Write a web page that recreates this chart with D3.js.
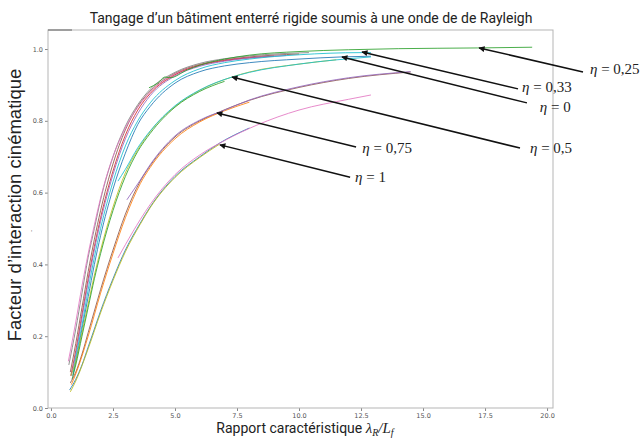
<!DOCTYPE html>
<html>
<head>
<meta charset="utf-8">
<script src="https://cdnjs.cloudflare.com/ajax/libs/d3/7.8.5/d3.min.js"></script>
<style>
    body { margin: 0; background: #fff; }
    text { font-family: Roboto, "Liberation Sans", sans-serif; }
</style>
</head>
<body>
<div id="chart"></div>
<script>
const xTicks = [0, 2.5, 5, 7.5, 10, 12.5, 15, 17.5, 20];
const yTicks = [0, 0.2, 0.4, 0.6, 0.8, 1.0];

// upper bundle (eta = 0 / 0,25 / 0,33)
const top1 = [[0.72,0.12],[1,0.22],[1.25,0.32],[1.5,0.42],[1.75,0.5],[2,0.58],[2.5,0.7],[3,0.785],[3.5,0.845],[4,0.888],[5,0.935],[6,0.96],[7,0.973],[8,0.981],[10.4,0.99]];
const top2 = [[0.78,0.1],[1,0.18],[1.25,0.28],[1.5,0.38],[1.75,0.47],[2,0.55],[2.5,0.68],[3,0.775],[3.5,0.84],[4,0.883],[5,0.932],[6,0.957],[7,0.97],[8,0.978],[10,0.986]];
const top3 = [[0.7,0.13],[1,0.24],[1.25,0.34],[1.5,0.43],[1.75,0.51],[2,0.585],[2.5,0.7],[3,0.78],[3.5,0.838],[4,0.88],[5,0.93],[6,0.955],[7,0.968],[8.5,0.978]];
const top4 = [[0.8,0.09],[1,0.16],[1.25,0.26],[1.5,0.36],[1.75,0.45],[2,0.53],[2.5,0.66],[3,0.76],[3.5,0.83],[4,0.876],[5,0.928],[6,0.955],[7,0.968],[9,0.98]];
const top5 = [[0.82,0.09],[1,0.15],[1.25,0.25],[1.5,0.35],[1.75,0.44],[2,0.52],[2.5,0.65],[3,0.75],[3.5,0.82],[4,0.87],[5,0.925],[6,0.952],[7,0.966],[8,0.975],[9.5,0.982]];
const eta0 = [[0.88,0.09],[1,0.13],[1.25,0.22],[1.5,0.31],[1.75,0.4],[2,0.48],[2.5,0.61],[3,0.71],[3.5,0.79],[4,0.84],[5,0.905],[6,0.937],[7,0.953],[8,0.962],[10,0.972],[11.7,0.978],[12.9,0.98]];
const eta033 = [[0.9,0.1],[1,0.14],[1.25,0.23],[1.5,0.33],[1.75,0.42],[2,0.5],[2.5,0.63],[3,0.73],[3.5,0.8],[4,0.85],[5,0.912],[6,0.945],[7,0.962],[8,0.972],[10,0.984],[12.5,0.99],[12.9,0.99]];
const eta025 = [[3.95,0.892],[4.3,0.905],[4.6,0.922],[4.8,0.92],[5.5,0.942],[6,0.955],[7,0.972],[8,0.983],[10,0.993],[12,0.998],[14,1.001],[17.2,1.003],[19.4,1.005]];

// eta = 0,5
const eta05a = [[0.8,0.09],[1,0.13],[1.25,0.21],[1.5,0.29],[1.75,0.37],[2,0.44],[2.5,0.56],[3,0.655],[3.5,0.72],[4,0.77],[5,0.84],[6,0.885],[7.3,0.922],[8,0.936],[10,0.958],[11.5,0.97]];
const eta05b = [[0.85,0.08],[1,0.12],[1.25,0.2],[1.5,0.28],[1.75,0.36],[2,0.43],[2.5,0.55],[3,0.645],[3.5,0.715],[4,0.765],[5,0.838],[6,0.882],[7,0.91]];
const eta05c = [[2.7,0.632],[3,0.665],[3.5,0.725],[4,0.772],[5,0.842],[6,0.886],[7.3,0.922],[8,0.935],[10,0.958],[12.9,0.978]];

// eta = 0,75
const eta075a = [[0.78,0.07],[1,0.1],[1.25,0.15],[1.5,0.21],[1.75,0.27],[2,0.33],[2.5,0.44],[3,0.54],[3.6,0.632],[4,0.675],[5,0.755],[6,0.8],[6.7,0.822],[8,0.857],[10,0.893],[12,0.918],[14.5,0.936]];
const eta075b = [[0.82,0.065],[1,0.095],[1.5,0.2],[2,0.32],[2.5,0.43],[3,0.53],[3.6,0.625],[4,0.67],[5,0.75],[6,0.797],[7,0.828],[8,0.852]];
const eta075c = [[3.06,0.58],[3.6,0.635],[4,0.678],[5,0.758],[6,0.802],[7,0.83],[8,0.858],[10,0.895],[12,0.92],[14.5,0.937]];

// eta = 1
const eta1a = [[0.75,0.05],[1,0.08],[1.25,0.12],[1.5,0.17],[1.75,0.22],[2,0.27],[2.5,0.36],[3,0.44],[3.6,0.515],[4,0.56],[5,0.645],[6,0.7],[6.8,0.738],[8,0.78]];
const eta1b = [[0.78,0.045],[1,0.075],[1.5,0.165],[2,0.265],[2.5,0.355],[3,0.435],[3.6,0.512],[4,0.558],[5,0.642],[6,0.698],[6.8,0.735]];
const eta1c = [[2.7,0.418],[3,0.455],[3.6,0.525],[4,0.567],[5,0.65],[6,0.705],[7,0.745],[8.3,0.788],[10,0.83],[12,0.86],[12.9,0.872]];

const seriesList = [top1, top2, top3, top4, top5, eta0, eta033, eta025,
    eta05a, eta05b, eta05c, eta075a, eta075b, eta075c, eta1a, eta1b, eta1c];
const seriesColor = ["#7f7f7f", "#8c564b", "#e377c2", "#d62728", "#9467bd", "#1f77b4", "#17becf", "#2ca02c",
    "#bcbd22", "#2ca02c", "#17becf", "#8c564b", "#ff7f0e", "#9467bd", "#1f77b4", "#bcbd22", "#e377c2"];

// annotations: tip of arrow, tail of arrow, label position (data coords)
const etaLabels = ["0,25", "0,33", "0", "0,5", "0,75", "1"];
const tipX = [17.26, 12.54, 11.73, 7.3, 6.69, 6.81];
const tipY = [1.003, 0.992, 0.978, 0.922, 0.822, 0.733];
const tailX = [21.45, 18.83, 19.19, 18.91, 12.3, 12.06];
const tailY = [0.936, 0.889, 0.85, 0.724, 0.727, 0.643];
const labelX = [21.73, 18.99, 19.71, 19.31, 12.55, 12.26];
const labelY = [0.942, 0.894, 0.836, 0.724, 0.724, 0.643];

const width = 644, height = 439;
const margin = { top: 30, right: 91, bottom: 31, left: 48 };

let svg = d3.select("#chart").append("svg")
    .attr("width", width)
    .attr("height", height);

svg.append("rect")
    .attr("width", width)
    .attr("height", height)
    .attr("fill", "#fff");

let x = d3.scaleLinear()
    .domain([-0.12, 20.24])
    .range([margin.left, width - margin.right]);

let y = d3.scaleLinear()
    .domain([0, 1.053])
    .range([height - margin.bottom, margin.top]);

// title
svg.append("text")
    .attr("x", 311)
    .attr("y", 23)
    .attr("text-anchor", "middle")
    .style("font-size", "14px")
    .style("fill", "#222")
    .text("Tangage d’un bâtiment enterré rigide soumis à une onde de de Rayleigh");

// axes
let xAxis = svg.append("g")
    .attr("transform", `translate(0, ${height - margin.bottom})`)
    .call(d3.axisBottom(x).tickValues(xTicks).tickFormat(d3.format(".1f")).tickSize(3).tickPadding(2));

let yAxis = svg.append("g")
    .attr("transform", `translate(${margin.left}, 0)`)
    .call(d3.axisLeft(y).tickValues(yTicks).tickFormat(d3.format(".1f")).tickSize(3).tickPadding(2));

[xAxis, yAxis].forEach(function (g) {
    g.select(".domain").remove();
    g.selectAll("line").attr("stroke", "#888");
    g.selectAll("text").style("font-size", "6.5px").style("fill", "#555")
        .style("font-family", "\"DejaVu Sans\", sans-serif");
});

// frame
svg.append("rect")
    .attr("x", x.range()[0])
    .attr("y", y.range()[1])
    .attr("width", x.range()[1] - x.range()[0])
    .attr("height", y.range()[0] - y.range()[1])
    .attr("fill", "none")
    .attr("stroke", "#b5b5b5")
    .attr("stroke-width", 1);

svg.append("line")
    .attr("x1", x.range()[0])
    .attr("x2", x.range()[0] + 24)
    .attr("y1", y.range()[1])
    .attr("y2", y.range()[1])
    .attr("stroke", "#777")
    .attr("stroke-width", 1.2);

// curves
let line = d3.line()
    .x(function (d) { return x(d[0]); })
    .y(function (d) { return y(d[1]); })
    .curve(d3.curveMonotoneX);

svg.append("g")
    .selectAll("path")
    .data(seriesList)
    .join("path")
    .attr("d", line)
    .attr("fill", "none")
    .attr("stroke", function (d, i) { return seriesColor[i]; })
    .attr("stroke-width", 1)
    .attr("stroke-opacity", 0.85);

// arrows
svg.append("defs").append("marker")
    .attr("id", "arrow")
    .attr("viewBox", "0 0 10 10")
    .attr("refX", 9)
    .attr("refY", 5)
    .attr("markerWidth", 5)
    .attr("markerHeight", 4)
    .attr("orient", "auto")
    .append("path")
    .attr("d", "M0,0 L10,5 L0,10 z")
    .attr("fill", "#111");

let notes = svg.append("g");

etaLabels.forEach(function (lab, i) {
    notes.append("line")
        .attr("x1", x(tailX[i]))
        .attr("y1", y(tailY[i]))
        .attr("x2", x(tipX[i]))
        .attr("y2", y(tipY[i]))
        .attr("stroke", "#111")
        .attr("stroke-width", 1.5)
        .attr("marker-end", "url(#arrow)");

    let t = notes.append("text")
        .attr("x", x(labelX[i]))
        .attr("y", y(labelY[i]))
        .attr("dy", "0.3em")
        .style("font-family", "\"Liberation Serif\", \"DejaVu Serif\", serif")
        .style("font-size", "15px")
        .style("fill", "#222");
    t.append("tspan").style("font-style", "italic").text("η");
    t.append("tspan").text(" = " + lab);
});

// axis titles
svg.append("text")
    .attr("transform", "translate(21, 205) rotate(-90)")
    .attr("text-anchor", "middle")
    .style("font-family", "\"Liberation Sans\", Arial, sans-serif")
    .style("font-size", "18.5px")
    .style("fill", "#222")
    .text("Facteur d’interaction cinématique");

svg.append("text")
    .attr("x", 31)
    .attr("y", 235)
    .style("font-size", "7px")
    .style("fill", "#777")
    .text("'");

let xl = svg.append("text")
    .attr("x", 305)
    .attr("y", 433)
    .attr("text-anchor", "middle")
    .style("font-size", "14px")
    .style("fill", "#222");
xl.append("tspan").text("Rapport caractéristique ");
let mathStyle = "font-family: 'Liberation Serif', 'DejaVu Serif', serif; font-style: italic; font-size: 15px";
xl.append("tspan").attr("style", mathStyle).text("λ");
xl.append("tspan").attr("style", mathStyle + "; font-size: 10px").attr("dy", "3").text("R");
xl.append("tspan").attr("style", mathStyle).attr("dy", "-3").text("/L");
xl.append("tspan").attr("style", mathStyle + "; font-size: 10px").attr("dy", "3").text("f");
</script>
</body>
</html>
